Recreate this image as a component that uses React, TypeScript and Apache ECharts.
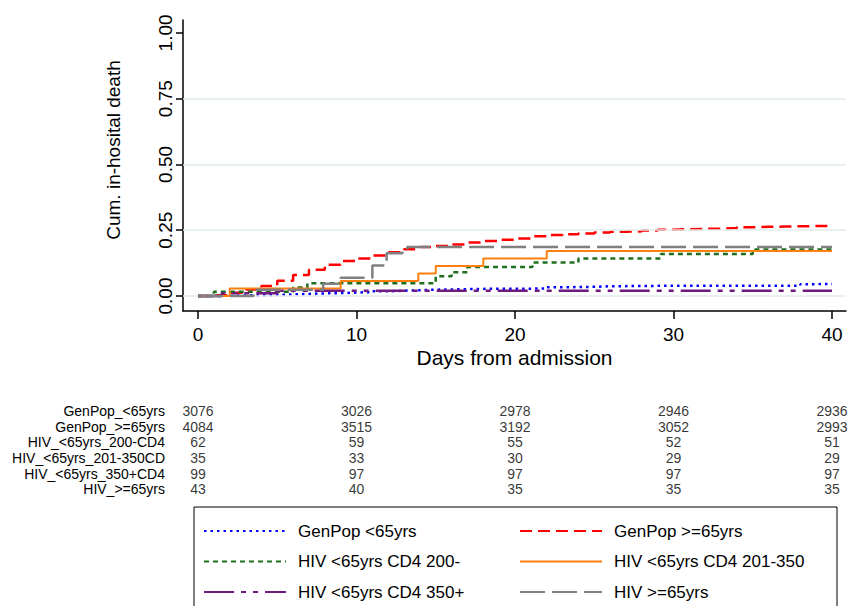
import { useEffect, useRef } from 'react';
import * as echarts from 'echarts';

const FONT = '"Liberation Sans", Arial, sans-serif';

// Axis ticks
const dayTicks = [0, 10, 20, 30, 40];
const probTicks = [0, 0.25, 0.5, 0.75, 1];
const gridValues = [0, 0.25, 0.5, 0.75];

// Series names
const seriesNames = [
  'GenPop <65yrs',
  'GenPop >=65yrs',
  'HIV <65yrs CD4 200-',
  'HIV <65yrs CD4 201-350',
  'HIV <65yrs CD4 350+',
  'HIV >=65yrs',
];

// Cumulative in-hospital death (day, cum. incidence)
const genPopUnder65: [number, number][] = [
  [0, 0], [1, 0.001], [2, 0.002], [3, 0.003], [4, 0.004], [5, 0.006], [6, 0.008],
  [7, 0.01], [8, 0.011], [9, 0.013], [10, 0.015], [11, 0.018], [12, 0.02], [13, 0.022],
  [14, 0.024], [15, 0.025], [16, 0.026], [17, 0.027], [18, 0.028], [19, 0.028],
  [20, 0.028], [21, 0.029], [22, 0.033], [23, 0.034], [24, 0.035], [25, 0.037],
  [26, 0.039], [30, 0.039], [37, 0.039], [38, 0.045], [39, 0.046], [40, 0.046],
];
const genPopOver65: [number, number][] = [
  [0, 0], [1, 0.003], [2, 0.012], [3, 0.025], [4, 0.038], [5, 0.058], [6, 0.08],
  [7, 0.1], [8, 0.119], [9, 0.133], [10, 0.143], [11, 0.154], [12, 0.166], [13, 0.178],
  [14, 0.186], [15, 0.19], [16, 0.196], [17, 0.203], [18, 0.209], [19, 0.214],
  [20, 0.219], [21, 0.227], [22, 0.232], [23, 0.235], [24, 0.238], [25, 0.241],
  [26, 0.244], [27, 0.246], [28, 0.249], [29, 0.252], [30, 0.254], [31, 0.255],
  [32, 0.256], [33, 0.258], [34, 0.261], [35, 0.263], [36, 0.264], [37, 0.265],
  [38, 0.266], [39, 0.266], [40, 0.266],
];
const hivCd4Under200: [number, number][] = [
  [0, 0], [1, 0.016], [6, 0.032], [6.9, 0.048], [15, 0.075], [16, 0.09], [17, 0.11],
  [21.1, 0.127], [24, 0.143], [29.2, 0.16], [35, 0.177], [40, 0.177],
];
const hivCd4_201_350: [number, number][] = [
  [0, 0], [2, 0.0286], [9, 0.0571], [13.9, 0.0857], [15, 0.1143], [18, 0.1429],
  [22, 0.1714], [40, 0.1714],
];
const hivCd4Over350: [number, number][] = [
  [0, 0], [1.5, 0.0101], [5, 0.0202], [40, 0.0202],
];
const hivOver65: [number, number][] = [
  [0, 0], [3.5, 0.0233], [7.9, 0.0465], [9, 0.0698], [11, 0.1163], [11.9, 0.1628],
  [12.9, 0.172], [13.2, 0.186], [40, 0.186],
];

// Number at risk table
const riskRows = [
  'GenPop_<65yrs',
  'GenPop_>=65yrs',
  'HIV_<65yrs_200-CD4',
  'HIV_<65yrs_201-350CD',
  'HIV_<65yrs_350+CD4',
  'HIV_>=65yrs',
];
const riskGenPopUnder65 = [3076, 3026, 2978, 2946, 2936];
const riskGenPopOver65 = [4084, 3515, 3192, 3052, 2993];
const riskCd4Under200 = [62, 59, 55, 52, 51];
const riskCd4_201_350 = [35, 33, 30, 29, 29];
const riskCd4Over350 = [99, 97, 97, 97, 97];
const riskHivOver65 = [43, 40, 35, 35, 35];

const XMIN = -0.946;
const XMAX = 40.88;
const YMIN = -0.057;
const YMAX = 1.049;

export default function App() {
  const ref = useRef<HTMLDivElement>(null);

  useEffect(() => {
    const chart = echarts.init(ref.current!, null, { renderer: 'svg' });

    const curves = [genPopUnder65, genPopOver65, hivCd4Under200, hivCd4_201_350, hivCd4Over350, hivOver65];
    const colors = ['#0000ff', '#ff0000', '#1f6f1f', '#ff7f0e', '#6f1a7f', '#808080'];
    const dashes: any[] = [[2.5, 4], [12, 6], [5, 4], 'solid', [30, 7, 5, 7, 5, 7], [25, 7]];
    const widths = [2.5, 2.5, 2.5, 2, 2.5, 2.5];

    const riskData = [riskGenPopUnder65, riskGenPopOver65, riskCd4Under200, riskCd4_201_350, riskCd4Over350, riskHivOver65];
    const tableData: any[] = [];
    riskData.forEach((row, r) => {
      row.forEach((n, j) => {
        tableData.push([dayTicks[j], riskRows[r], n]);
      });
    });

    const legendCommon = {
      orient: 'vertical' as const,
      top: 521,
      height: 85,
      padding: 0,
      itemWidth: 82,
      itemHeight: 14,
      itemGap: 10.5,
      itemStyle: { opacity: 0 },
      textStyle: { fontSize: 17, fontFamily: FONT, color: '#000', lineHeight: 20, padding: [0, 0, 0, 7] },
    };

    chart.setOption({
      animation: false,
      textStyle: { fontFamily: FONT },
      grid: [
        { left: 183, right: 2, top: 20, height: 291 },
        { left: 183, right: 2, top: 403, height: 94.2 },
      ],
      xAxis: [
        {
          type: 'value',
          gridIndex: 0,
          min: XMIN,
          max: XMAX,
          axisLine: { show: true, onZero: false, lineStyle: { color: '#000', width: 1.5 } },
          axisTick: { show: true, customValues: dayTicks, length: 8, lineStyle: { color: '#000', width: 1.5 } },
          axisLabel: { customValues: dayTicks, fontSize: 19, color: '#000', margin: 14, fontFamily: FONT },
          splitLine: { show: false },
          name: 'Days from admission',
          nameLocation: 'middle',
          nameGap: 36,
          nameTextStyle: { fontSize: 21, color: '#000', fontFamily: FONT },
        },
        { type: 'value', gridIndex: 1, min: XMIN, max: XMAX, show: false },
      ],
      yAxis: [
        {
          type: 'value',
          gridIndex: 0,
          min: YMIN,
          max: YMAX,
          axisLine: { show: true, onZero: false, lineStyle: { color: '#000', width: 1.5 } },
          axisTick: { show: true, customValues: probTicks, length: 7, lineStyle: { color: '#000', width: 1.5 } },
          axisLabel: {
            customValues: probTicks,
            rotate: 90,
            fontSize: 19,
            color: '#000',
            margin: 8,
            fontFamily: FONT,
            formatter: (v: number) => v.toFixed(2),
          },
          splitLine: { show: false },
        },
        {
          type: 'category',
          gridIndex: 1,
          data: riskRows,
          inverse: true,
          axisLine: { show: false },
          axisTick: { show: false },
          axisLabel: { interval: 0, fontSize: 14, color: '#000', margin: 18, fontFamily: FONT },
        },
      ],
      legend: [
        { ...legendCommon, left: 203, data: [seriesNames[0], seriesNames[2], seriesNames[4]] },
        { ...legendCommon, left: 519, data: [seriesNames[1], seriesNames[3], seriesNames[5]] },
      ],
      graphic: [
        {
          type: 'text',
          x: 113,
          y: 150,
          rotation: Math.PI / 2,
          style: {
            text: 'Cum. in-hosital death',
            fontSize: 19,
            fontFamily: FONT,
            fill: '#000',
            align: 'center',
            verticalAlign: 'middle',
          },
        },
        {
          type: 'rect',
          shape: { x: 194, y: 507, width: 643, height: 120 },
          style: { fill: 'none', stroke: '#000', lineWidth: 1 },
          silent: true,
        },
      ],
      series: [
        {
          type: 'line',
          xAxisIndex: 0,
          yAxisIndex: 0,
          data: [],
          z: 1,
          silent: true,
          markLine: {
            silent: true,
            symbol: 'none',
            label: { show: false },
            lineStyle: { color: '#e0ebec', width: 1.5, type: 'solid' },
            data: gridValues.map((v) => ({ yAxis: v })),
          },
        },
        ...curves.map((d, i) => ({
          name: seriesNames[i],
          type: 'line',
          xAxisIndex: 0,
          yAxisIndex: 0,
          step: 'end',
          data: d,
          symbol: 'none',
          showSymbol: false,
          z: 2 + i,
          color: colors[i],
          lineStyle: { color: colors[i], width: widths[i], type: dashes[i] },
        })),
        {
          type: 'scatter',
          xAxisIndex: 1,
          yAxisIndex: 1,
          data: tableData,
          symbolSize: 1,
          itemStyle: { color: 'rgba(0,0,0,0)' },
          label: {
            show: true,
            position: 'inside',
            formatter: (p: any) => String(p.value[2]),
            fontSize: 14,
            color: '#000',
            fontFamily: FONT,
          },
        },
      ],
    });

    return () => chart.dispose();
  }, []);

  return (
    <div
      ref={ref}
      style={{ position: 'absolute', left: 0, top: 0, width: 848, height: 606, background: '#fff' }}
    />
  );
}
